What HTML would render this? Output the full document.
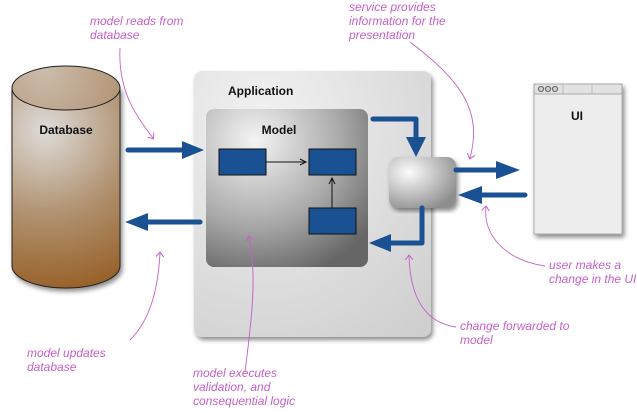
<!DOCTYPE html>
<html><head><meta charset="utf-8"><style>
body{margin:0;background:#fff;width:637px;height:408px;overflow:hidden}
text{font-family:"Liberation Sans",sans-serif}
.a{fill:#c65fc6;font-style:italic;font-size:12px}
.b{font-weight:bold;font-size:12px;fill:#111}
</style></head><body>
<svg width="637" height="408" viewBox="0 0 637 408">
<defs>
<radialGradient id="db" gradientUnits="userSpaceOnUse" cx="45" cy="130" r="190"><stop offset="0" stop-color="#dedcda"/><stop offset="0.45" stop-color="#b0916f"/><stop offset="1" stop-color="#8f4f10"/></radialGradient>
<radialGradient id="dbt" gradientUnits="userSpaceOnUse" cx="45" cy="70" r="90"><stop offset="0" stop-color="#cbbcab"/><stop offset="1" stop-color="#b09070"/></radialGradient>
<radialGradient id="app" cx="0.3" cy="0.2" r="1"><stop offset="0" stop-color="#f2f2f2"/><stop offset="1" stop-color="#cfcfcf"/></radialGradient>
<radialGradient id="mdl" cx="0.3" cy="0.2" r="0.9"><stop offset="0" stop-color="#f4f4f4"/><stop offset="0.6" stop-color="#a8a8a8"/><stop offset="1" stop-color="#666"/></radialGradient>
<radialGradient id="svc" cx="0.3" cy="0.3" r="0.8"><stop offset="0" stop-color="#fcfcfc"/><stop offset="1" stop-color="#8e8e8e"/></radialGradient>
<filter id="sh"><feDropShadow dx="2" dy="3" stdDeviation="2.5" flood-opacity="0.45"/></filter>
<marker id="pa" markerWidth="8" markerHeight="8" refX="4" refY="4" orient="auto" markerUnits="userSpaceOnUse"><path d="M0,0 L5,4 L0,8" fill="none" stroke="#c65fc6"/></marker>
</defs>
<g filter="url(#sh)">
<path d="M12,88 L12,266 A54,22 0 0 0 120,266 L120,88 Z" fill="url(#db)" stroke="#222"/>
</g>
<ellipse cx="66" cy="88" rx="54" ry="22" fill="url(#dbt)" stroke="#222"/>
<text x="66" y="134" class="b" text-anchor="middle">Database</text>
<rect x="194" y="71" width="237" height="266" rx="8" fill="url(#app)" filter="url(#sh)"/>
<text x="228" y="95" class="b">Application</text>
<rect x="206" y="109" width="162" height="158" rx="8" fill="url(#mdl)"/>
<text x="279" y="134" class="b" text-anchor="middle">Model</text>
<rect x="219" y="149" width="47" height="26" fill="#1a5193" stroke="#111"/>
<rect x="309" y="149" width="47" height="26" fill="#1a5193" stroke="#111"/>
<rect x="309" y="208" width="47" height="26" fill="#1a5193" stroke="#111"/>
<line x1="266" y1="162" x2="306" y2="162" stroke="#111"/><path d="M300,159 L306,162 L300,165" fill="none" stroke="#111"/>
<line x1="332" y1="208" x2="332" y2="178" stroke="#111"/><path d="M329,184 L332,178 L335,184" fill="none" stroke="#111"/>
<rect x="389" y="157" width="67" height="51" rx="9" fill="url(#svc)" filter="url(#sh)"/>
<g filter="url(#sh)"><rect x="534" y="84" width="88" height="150" fill="#ededed" stroke="#aaa"/></g>
<rect x="534" y="84" width="88" height="10" rx="2" fill="#e2e2e2" stroke="#aaa"/>
<circle cx="541" cy="89" r="2.6" fill="#ccc" stroke="#666"/><circle cx="548" cy="89" r="2.6" fill="#ccc" stroke="#666"/><circle cx="555" cy="89" r="2.6" fill="#ccc" stroke="#666"/>
<line x1="563" y1="84" x2="563" y2="94" stroke="#bbb"/><line x1="592" y1="84" x2="592" y2="94" stroke="#bbb"/>
<text x="577" y="120" class="b" text-anchor="middle">UI</text>
<g stroke="#1a5193" stroke-width="5" fill="none" stroke-linecap="round" stroke-linejoin="round">
<line x1="128" y1="150" x2="184" y2="150"/>
<line x1="200" y1="222" x2="146" y2="222"/>
<polyline points="373,119 416,119 416,140"/>
<polyline points="422,208 422,243 390,243"/>
<line x1="456" y1="170" x2="498" y2="170"/>
<line x1="525" y1="195" x2="480" y2="195"/>
</g>
<g fill="#1a5193">
<path d="M182,141 L204,150 L182,159Z"/>
<path d="M148,213 L125,222 L148,231Z"/>
<path d="M406,137 L416,157 L426,137Z"/>
<path d="M391,234 L369,243 L391,252Z"/>
<path d="M496,161 L520,170 L496,179Z"/>
<path d="M482,186 L458,195 L482,204Z"/>
</g>
<g stroke="#c65fc6" fill="none" stroke-width="0.9" marker-end="url(#pa)">
<path d="M120,48 C118,90 135,115 153,138"/>
<path d="M130,340 C150,320 158,290 160,253"/>
<path d="M245,372 C250,330 258,280 249,237"/>
<path d="M456,327 C420,322 410,290 409,256"/>
<path d="M545,266 C505,260 483,235 486,207"/>
<path d="M410,42 C460,80 483,110 470,158"/>
</g>
<text class="a" x="90" y="25">model reads from</text><text class="a" x="90" y="39">database</text>
<text class="a" x="349" y="11">service provides</text><text class="a" x="349" y="25">information for the</text><text class="a" x="349" y="39">presentation</text>
<text class="a" x="549" y="269">user makes a</text><text class="a" x="549" y="283">change in the UI</text>
<text class="a" x="460" y="330">change forwarded to</text><text class="a" x="460" y="344">model</text>
<text class="a" x="27" y="357">model updates</text><text class="a" x="27" y="371">database</text>
<text class="a" x="193" y="377">model executes</text><text class="a" x="193" y="391">validation, and</text><text class="a" x="193" y="405">consequential logic</text>
</svg>
</body></html>
